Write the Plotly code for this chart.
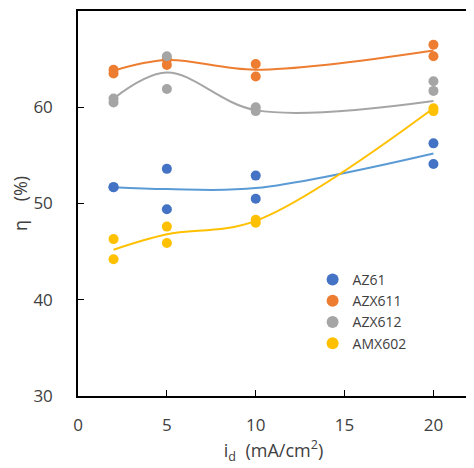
import plotly.graph_objects as go

# x positions (current density, mA/cm2)
x_pts = [2, 2, 5, 5, 10, 10, 20, 20]
x_line = [2, 5, 10, 20]

# measured points (two repeats per current density)
az61_pts = [51.7, 51.7, 53.6, 49.4, 52.9, 50.5, 56.25, 54.1]
azx611_pts = [63.9, 63.5, 65.0, 64.4, 64.5, 63.2, 66.5, 65.3]
azx612_pts = [60.9, 60.5, 65.3, 61.9, 60.0, 59.6, 62.7, 61.7]
amx602_pts = [46.3, 44.2, 47.6, 45.9, 48.3, 48.0, 59.9, 59.6]

# smoothed trend lines
az61_line = [51.7, 51.5, 51.6, 55.2]
azx611_line = [63.8, 64.9, 63.9, 65.9]
azx612_line = [60.9, 63.6, 59.7, 60.65]
amx602_line = [45.2, 46.8, 48.2, 59.9]

names = ["AZ61", "AZX611", "AZX612", "AMX602"]
marker_colors = ["#4472C4", "#ED7D31", "#A5A5A5", "#FFC000"]
line_colors = ["#5B9BD5", "#ED7D31", "#A5A5A5", "#FFC000"]

x_ticks = [0, 5, 10, 15, 20]
y_ticks = [30, 40, 50, 60, 70]

fig = go.Figure()
pts = [az61_pts, azx611_pts, azx612_pts, amx602_pts]
lines = [az61_line, azx611_line, azx612_line, amx602_line]

for name, ly, lc in zip(names, lines, line_colors):
    fig.add_trace(go.Scatter(x=x_line, y=ly, mode="lines",
                             line=dict(color=lc, width=2, shape="spline", smoothing=1.0),
                             showlegend=False, hoverinfo="skip"))
for name, py, mc in zip(names, pts, marker_colors):
    fig.add_trace(go.Scatter(x=x_pts, y=py, mode="markers", name=name,
                             marker=dict(color=mc, size=10)))

font_fam = "Open Sans, Liberation Sans, sans-serif"
fig.update_layout(
    width=466, height=460,
    margin=dict(l=70, r=5, t=3, b=72),
    paper_bgcolor="white", plot_bgcolor="white",
    font=dict(family=font_fam, size=17, color="#404040"),
    showlegend=True,
    legend=dict(x=0.60, y=0.343, xanchor="left", yanchor="top",
                bgcolor="rgba(0,0,0,0)", font=dict(size=14, color="#404040"),
                itemsizing="constant", tracegroupgap=0),
    xaxis=dict(range=[0, 22], tickvals=x_ticks, ticktext=[str(v) for v in x_ticks],
               showgrid=False, zeroline=False, showline=True, linecolor="black",
               linewidth=1.5, mirror=True, ticks="inside", ticklen=6, tickcolor="black",
               ticklabelstandoff=13, automargin=False,
               title=dict(text="i<sub>d</sub>  (mA/cm<sup>2</sup>)", standoff=9,
                          font=dict(size=18, color="#404040"))),
    yaxis=dict(range=[30, 70], tickvals=y_ticks, ticktext=[str(v) for v in y_ticks],
               showgrid=False, zeroline=False, showline=True, linecolor="black",
               linewidth=1.5, mirror=True, ticks="inside", ticklen=6, tickcolor="black",
               ticklabelstandoff=20, automargin=False,
               title=dict(text="η&nbsp;&nbsp;&nbsp;&nbsp;(%)", standoff=16,
                          font=dict(size=18, color="#404040"))),
)

fig.write_html("out.html")
